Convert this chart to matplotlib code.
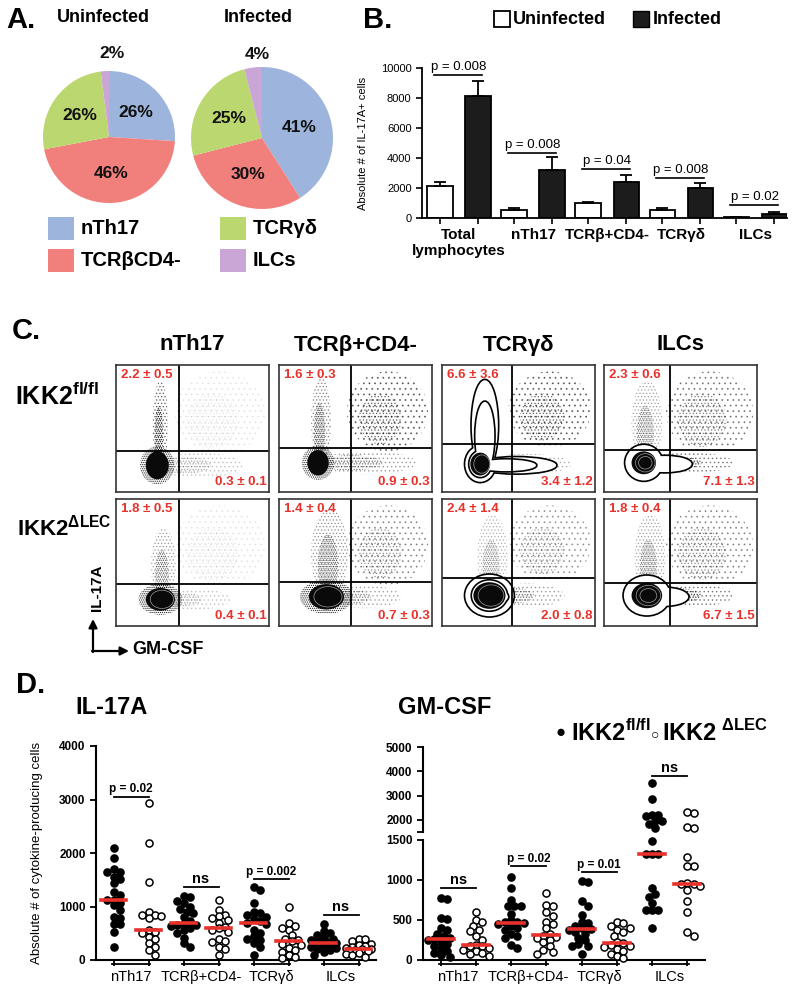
import numpy as np
import matplotlib
matplotlib.use('Agg')
import matplotlib.pyplot as plt
from matplotlib.patches import Ellipse, Rectangle

plt.rcParams['font.family'] = ['Liberation Sans', 'DejaVu Sans']
plt.rcParams['mathtext.fontset'] = 'custom'
plt.rcParams['mathtext.rm'] = 'Liberation Sans'
plt.rcParams['mathtext.bf'] = 'Liberation Sans:bold'
plt.rcParams['hatch.linewidth'] = 0.6

W, H = 800, 991
RED = '#e8312b'

# ---- A. share of IL-17A+ cells (pies)
pie_labels = ['nTh17', 'TCRβCD4-', 'TCRγδ', 'ILCs']
pie_colors = ['#9db5dc', '#f17f7c', '#bbd76f', '#c9a6d6']
pct_uninfected = [26, 46, 26, 2]
pct_infected = [41, 30, 25, 4]

# ---- B. absolute IL-17A+ cells
b_groups = ['Total\nlymphocytes', 'nTh17', 'TCRβ+CD4-', 'TCRγδ', 'ILCs']
b_uninf = [2150, 550, 1000, 550, 60]
b_uninf_err = [250, 150, 80, 90, 20]
b_inf = [8100, 3200, 2400, 2000, 280]
b_inf_err = [1050, 850, 450, 320, 100]
b_pvals = ['p = 0.008', 'p = 0.008', 'p = 0.04', 'p = 0.008', 'p = 0.02']
b_pline = [9530, 4350, 3250, 2690, 870]

# ---- C. flow plots (quadrant gates and rough population shapes, axes fraction)
flow_cols = ['nTh17', 'TCRβ+CD4-', 'TCRγδ', 'ILCs']
flow_rows = [r'IKK2$^{\mathbf{fl/fl}}$', r'IKK2$^{\mathbf{\Delta LEC}}$']
flow_ul = [['2.2 ± 0.5', '1.6 ± 0.3', '6.6 ± 3.6', '2.3 ± 0.6'],
           ['1.8 ± 0.5', '1.4 ± 0.4', '2.4 ± 1.4', '1.8 ± 0.4']]
flow_lr = [['0.3 ± 0.1', '0.9 ± 0.3', '3.4 ± 1.2', '7.1 ± 1.3'],
           ['0.4 ± 0.1', '0.7 ± 0.3', '2.0 ± 0.8', '6.7 ± 1.5']]
gate_x = [[0.41, 0.47, 0.46, 0.43], [0.41, 0.47, 0.46, 0.43]]
gate_y = [[0.32, 0.35, 0.38, 0.33], [0.33, 0.35, 0.38, 0.34]]
core_x = [[0.27, 0.255, 0.25, 0.26], [0.29, 0.31, 0.31, 0.28]]
core_y = [[0.21, 0.23, 0.22, 0.23], [0.21, 0.23, 0.24, 0.24]]
core_w = [[0.15, 0.14, 0.13, 0.16], [0.19, 0.23, 0.21, 0.20]]
core_h = [[0.22, 0.20, 0.18, 0.18], [0.18, 0.20, 0.21, 0.20]]
streak_top = [[0.85, 0.88, 0.85, 0.85], [0.75, 0.90, 0.85, 0.85]]
streak_wid = [[0.10, 0.13, 0.16, 0.2], [0.16, 0.24, 0.2, 0.2]]
streak_den = [[0.9, 0.7, 0.35, 0.5], [0.55, 0.6, 0.4, 0.5]]
tail_end = [[0.83, 0.90, 0.85, 0.85], [0.75, 0.80, 0.80, 0.85]]
tail_den = [[0.3, 0.5, 0.4, 0.7], [0.3, 0.45, 0.5, 0.7]]
cloud_den = [[0.08, 0.5, 0.5, 0.4], [0.08, 0.35, 0.3, 0.35]]
lobe_top = [[0, 0, 0.83, 0], [0, 0, 0, 0]]
lobe_right = [[0, 0, 0.72, 0.54], [0, 0, 0.42, 0.51]]
contour_levels = [[0, 0, 2, 1], [0, 0, 2, 1]]
core_rings = [[0, 0, 1, 2], [1, 1, 1, 2]]

# ---- D. cytokine-producing cells per mouse
d_groups = ['nTh17', 'TCRβ+CD4-', 'TCRγδ', 'ILCs']
il17a_fl = [[2090, 1910, 1700, 1640, 1640, 1560, 1510, 1440, 1270, 1210, 1120,
             1130, 1060, 1020, 930, 810, 780, 670, 670, 530, 250],
            [1200, 1170, 1110, 1060, 1000, 960, 900, 870, 800, 720, 680, 660,
             650, 640, 600, 560, 500, 420, 310, 240],
            [1370, 1310, 1060, 900, 880, 840, 800, 760, 720, 700, 680, 560, 500,
             450, 400, 380, 310, 250, 100],
            [680, 550, 500, 460, 430, 400, 380, 360, 340, 320, 310, 300, 280,
             260, 240, 220, 200, 180, 150, 100]]
il17a_lec = [[2930, 2180, 1450, 900, 850, 840, 820, 780, 560, 520, 500, 430,
              390, 320, 250, 180, 100],
             [1120, 930, 850, 820, 780, 750, 700, 620, 590, 560, 520, 400, 350,
              330, 250, 200, 100],
             [1000, 690, 640, 600, 560, 460, 400, 380, 350, 300, 280, 220, 180,
              150, 100, 60, 30],
             [400, 390, 350, 300, 280, 260, 240, 220, 210, 200, 190, 180, 160,
              140, 120, 100, 60]]
il17a_sig = ['p = 0.02', 'ns', 'p = 0.002', 'ns']
il17a_sig_y = [3050, 1360, 1510, 840]

gmcsf_fl = [[780, 760, 520, 510, 400, 370, 330, 300, 280, 260, 250, 230, 200,
             170, 140, 110, 90, 60, 40],
            [1040, 900, 750, 680, 680, 680, 580, 500, 480, 470, 460, 450, 430,
             400, 370, 330, 300, 270, 190, 150],
            [990, 980, 740, 680, 560, 480, 460, 430, 400, 390, 380, 350, 330,
             280, 250, 200, 180, 170, 80],
            [3500, 2860, 2180, 2150, 2180, 1970, 1970, 1850, 1670, 1490, 1330,
             1330, 1330, 900, 830, 790, 710, 620, 620, 620, 400]]
gmcsf_lec = [[600, 500, 470, 430, 380, 360, 300, 250, 190, 180, 170, 150, 130,
              110, 90, 70, 50],
             [840, 690, 670, 600, 550, 480, 450, 400, 330, 300, 290, 270, 250,
              220, 170, 130, 100, 70],
             [470, 460, 430, 400, 370, 350, 300, 230, 210, 190, 180, 160, 140,
              110, 80, 50, 30],
             [2340, 2270, 1700, 1670, 1290, 1180, 1180, 960, 950, 950, 930, 880,
              740, 600, 350, 300]]
gmcsf_sig = ['ns', 'p = 0.02', 'p = 0.01', 'ns']
gmcsf_sig_y = [900, 1170, 1100, 3810]


def px_rect(x0, y0, x1, y1):
    return [x0 / W, 1 - y1 / H, (x1 - x0) / W, (y1 - y0) / H]


def swarm(vals, ypx, col_px=35.0, diam=7.5):
    # small beeswarm in pixel space, kept within +-0.42 of a column
    placed = []
    offs = np.zeros(len(vals))
    step = diam * 0.42
    cands = [0.0]
    j = 1
    while j * step <= 0.42 * col_px:
        cands += [j * step, -j * step]
        j += 1
    for i in np.argsort(vals)[::-1]:
        y = ypx(vals[i])
        best, best_d = 0.0, -1
        for c in cands:
            d = min([np.hypot(c - px, y - py) for px, py in placed] + [99])
            if d >= 0.78 * diam:
                best = c
                break
            if d > best_d:
                best, best_d = c, d
        placed.append((best, y))
        offs[i] = best / col_px
    return offs


fig = plt.figure(figsize=(W / 100, H / 100), dpi=100)
ov = fig.add_axes([0, 0, 1, 1])
ov.set_xlim(0, W)
ov.set_ylim(H, 0)
ov.axis('off')

# ================= A =================
ov.text(6, 20, 'A.', fontsize=21, fontweight='bold', va='center')
for vals, rect, title, tx, small_pos in [
        (pct_uninfected, (43, 71, 175, 203), 'Uninfected', 103, (0.05, 1.27)),
        (pct_infected, (191, 67, 333, 209), 'Infected', 258, (-0.06, 1.17))]:
    ov.text(tx, 18, title, fontsize=13, fontweight='bold', ha='center', va='center')
    ax = fig.add_axes(px_rect(*rect))
    wedges, _, autotexts = ax.pie(vals, colors=pie_colors, startangle=90, counterclock=False,
                                  autopct=lambda p: '%.0f%%' % p, pctdistance=0.55,
                                  wedgeprops=dict(linewidth=0),
                                  textprops=dict(fontsize=12.5, fontweight='bold', color='#111111'))
    for t, v in zip(autotexts, vals):
        if v < 5:
            t.set_position(small_pos)
    ax.set_xlim(-1, 1)
    ax.set_ylim(-1, 1)
    ax.set_aspect('equal')
    ax.axis('off')

for i, (lab, col) in enumerate(zip(pie_labels, pie_colors)):
    x = 48 + 172 * (i // 2)
    y = 217 + 32 * (i % 2)
    ov.add_patch(Rectangle((x, y), 26, 23, facecolor=col, edgecolor='none'))
    ov.text(x + 33, y + 12, lab, fontsize=14.5, fontweight='bold', va='center')

# ================= B =================
ov.text(363, 20, 'B.', fontsize=21, fontweight='bold', va='center')
ov.add_patch(Rectangle((494, 11), 16, 16, facecolor='white', edgecolor='k', lw=1.3))
ov.text(513, 19, 'Uninfected', fontsize=13, fontweight='bold', va='center')
ov.add_patch(Rectangle((633, 11), 16, 16, facecolor='#1c1c1c', edgecolor='k', lw=1.0))
ov.text(653, 19, 'Infected', fontsize=13, fontweight='bold', va='center')

axb = fig.add_axes(px_rect(422, 68, 787, 218))
xg = np.arange(len(b_groups))
off, bw = 0.257, 0.34
err_kw = dict(lw=1.3, capthick=1.3, ecolor='k')
axb.bar(xg - off, b_uninf, bw, color='white', edgecolor='k', lw=1.3,
        yerr=[np.zeros(len(xg)), b_uninf_err], capsize=4, error_kw=err_kw)
axb.bar(xg + off, b_inf, bw, color='#1c1c1c', edgecolor='k', lw=1.3,
        yerr=[np.zeros(len(xg)), b_inf_err], capsize=4, error_kw=err_kw)
axb.set_xlim(-0.5, 4.43)
axb.set_ylim(0, 10000)
axb.set_yticks(range(0, 10001, 2000))
axb.tick_params(axis='y', labelsize=8, width=1.2, length=4)
axb.set_xticks(np.concatenate([xg - off, xg + off]))
axb.tick_params(axis='x', labelbottom=False, width=1.2, length=4)
for s in ['top', 'right']:
    axb.spines[s].set_visible(False)
for s in ['left', 'bottom']:
    axb.spines[s].set_linewidth(1.3)
axb.set_ylabel('Absolute # of IL-17A+ cells', fontsize=8)
axb.yaxis.set_label_coords(-0.148, 0.5)
for i in range(len(b_groups)):
    axb.plot([i - off - 0.08, i + off + 0.05], [b_pline[i]] * 2, color='k', lw=1.2, clip_on=False)
    axb.annotate(b_pvals[i], (i, b_pline[i]), xytext=(0, 1.5), textcoords='offset points',
                 ha='center', va='bottom', fontsize=9.5, annotation_clip=False)
    axb.text(i, -0.065, b_groups[i], transform=axb.get_xaxis_transform(), ha='center', va='top',
             fontsize=11, fontweight='bold', linespacing=1.25)

# ================= C =================
ov.text(12, 331, 'C.', fontsize=21, fontweight='bold', va='center')
fx = [116, 279, 442, 604]
fy = [365, 499]
fw, fh = 153, 127
for c, name in enumerate(flow_cols):
    ov.text(fx[c] + fw / 2, 345, name, fontsize=16, fontweight='bold', ha='center', va='center')
ov.text(15, 396, flow_rows[0], fontsize=18, fontweight='bold', va='center')
ov.text(17, 528, flow_rows[1], fontsize=16, fontweight='bold', va='center')


def stipple(ax, centre, ew, eh, alpha, hatch):
    ax.add_patch(Ellipse(centre, ew, eh, facecolor='none', edgecolor='k', lw=0,
                         hatch=hatch, alpha=alpha))


for r in range(2):
    for c in range(4):
        ax = fig.add_axes(px_rect(fx[c], fy[r], fx[c] + fw, fy[r] + fh))
        ax.set_xlim(0, 1)
        ax.set_ylim(0, 1)
        ax.set_xticks([])
        ax.set_yticks([])
        for s in ax.spines.values():
            s.set_linewidth(1.2)
            s.set_color('#333333')
        gx, gy = gate_x[r][c], gate_y[r][c]
        cx, cy = core_x[r][c], core_y[r][c]
        w, h = core_w[r][c], core_h[r][c]
        # scattered events drawn as stipple, denser towards the main population
        stipple(ax, ((gx + 0.95) / 2, (gy + 0.92) / 2), 1.0 - gx, 0.98 - gy, cloud_den[r][c], '...')
        stipple(ax, ((gx + 0.85) / 2, (gy + 0.8) / 2), 0.75 - gx, 0.75 - gy, cloud_den[r][c], '.....')
        st, sw = streak_top[r][c], streak_wid[r][c]
        stipple(ax, (cx + 0.02, (cy + st) / 2), sw, st - cy + 0.05, streak_den[r][c] * 0.6, '.....')
        stipple(ax, (cx + 0.01, (cy + st * 0.8) / 2), sw * 0.55, st * 0.8 - cy, streak_den[r][c], '........')
        te = tail_end[r][c]
        stipple(ax, ((cx + te) / 2, cy), te - cx, h * 0.9, tail_den[r][c] * 0.6, '....')
        stipple(ax, ((cx + te * 0.75) / 2, cy), te * 0.75 - cx, h * 0.6, tail_den[r][c], '......')
        stipple(ax, (cx, cy), w * 1.5, h * 1.35, 0.9, '........')
        # contour lobes: outline then refill so only the outer outline of the union remains
        lt, lr = lobe_top[r][c], lobe_right[r][c]
        for scale in [1.0, 0.72][:contour_levels[r][c]]:
            shapes = [((cx, cy), w * 1.5 * scale, h * 1.55 * scale)]
            if lt:
                top = cy + (lt - cy) * scale
                shapes.append(((cx + 0.03, (cy + top) / 2), 0.17 * scale, top - cy + 0.1))
            if lr:
                right = cx + (lr - cx) * scale
                shapes.append((((cx + right) / 2, cy - 0.01), right - cx + w * 0.4, h * 0.7 * scale))
            for centre, ew, eh in shapes:
                ax.add_patch(Ellipse(centre, ew, eh, facecolor='white', edgecolor='k', lw=2.4))
            for centre, ew, eh in shapes:
                ax.add_patch(Ellipse(centre, ew, eh, facecolor='white', edgecolor='none'))
        ax.add_patch(Ellipse((cx, cy), w, h, facecolor='#0a0a0a', edgecolor='none'))
        for k in range(core_rings[r][c]):
            ax.add_patch(Ellipse((cx + 0.01, cy), w * (0.8 - 0.25 * k), h * (0.8 - 0.25 * k),
                                 facecolor='none', edgecolor='white', lw=0.5, alpha=0.6))
        ax.axvline(gx, color='k', lw=1.3)
        ax.axhline(gy, color='k', lw=1.3)
        ax.text(0.03, 0.97, flow_ul[r][c], transform=ax.transAxes, ha='left', va='top',
                fontsize=9.5, fontweight='bold', color=RED)
        ax.text(0.985, 0.03, flow_lr[r][c], transform=ax.transAxes, ha='right', va='bottom',
                fontsize=9.5, fontweight='bold', color=RED)

ov.text(97, 588, 'IL-17A', fontsize=11, fontweight='bold', rotation=90, ha='center', va='center')
ov.annotate('', xy=(93, 619), xytext=(93, 652),
            arrowprops=dict(arrowstyle='-|>,head_length=0.5,head_width=0.25', color='k', lw=1.6,
                            shrinkA=0, shrinkB=0))
ov.annotate('', xy=(129, 651), xytext=(92, 651),
            arrowprops=dict(arrowstyle='-|>,head_length=0.5,head_width=0.25', color='k', lw=1.6,
                            shrinkA=0, shrinkB=0))
ov.text(132, 650, 'GM-CSF', fontsize=13, fontweight='bold', va='center')

# ================= D =================
ov.text(16, 685, 'D.', fontsize=21, fontweight='bold', va='center')
ov.text(75, 708, 'IL-17A', fontsize=17, fontweight='bold', va='center')
ov.text(398, 708, 'GM-CSF', fontsize=17, fontweight='bold', va='center')
ov.text(556, 732, '●', fontsize=12, va='center', ha='left')
ov.text(571, 733, r'IKK2$^{\mathbf{fl/fl}}$', fontsize=17, fontweight='bold', va='center')
ov.text(651, 734, '○', fontsize=10, va='center', ha='left')
ov.text(662, 733, r'IKK2$^{\mathbf{\ \Delta LEC}}$', fontsize=17, fontweight='bold', va='center')


def style_d(ax, bottom=True):
    for s in ['top', 'right']:
        ax.spines[s].set_visible(False)
    ax.spines['left'].set_linewidth(1.5)
    ax.spines['bottom'].set_linewidth(1.5)
    if not bottom:
        ax.spines['bottom'].set_visible(False)
    ax.tick_params(axis='y', labelsize=8.5, width=1.3, length=4)
    for t in ax.get_yticklabels():
        t.set_fontweight('bold')
    ax.set_xlim(-0.5, 7.5)
    ax.set_xticks(np.arange(8))
    ax.tick_params(axis='x', labelbottom=False, width=1.3, length=4 if bottom else 0)


def group_labels(ax, ax_h_px):
    for g, name in enumerate(d_groups):
        ax.plot([2 * g - 0.05, 2 * g + 1.05], [-4 / ax_h_px] * 2, color='k', lw=1.3,
                transform=ax.get_xaxis_transform(), clip_on=False)
        ax.text(2 * g + 0.5, -10 / ax_h_px, name, transform=ax.get_xaxis_transform(),
                ha='center', va='top', fontsize=10.5)


def sig_mark(ax, g, y, label):
    ax.plot([2 * g, 2 * g + 1], [y, y], color='k', lw=1.3, clip_on=False)
    ax.annotate(label, (2 * g + 0.5, y), xytext=(0, 1), textcoords='offset points',
                ha='center', va='bottom', fontsize=10.5 if label == 'ns' else 8.5,
                fontweight='bold', annotation_clip=False)


# IL-17A
axi = fig.add_axes(px_rect(96, 746, 376, 960))
il_px = lambda v: v * 0.0535
for g in range(4):
    for j, vals in enumerate([il17a_fl[g], il17a_lec[g]]):
        x0 = 2 * g + j
        xs = x0 + swarm(vals, il_px)
        axi.scatter(xs, vals, s=26, facecolor='k' if j == 0 else 'white', edgecolor='k',
                    lw=1.1, zorder=3, clip_on=False)
        med = np.median(vals)
        axi.plot([x0 - 0.37, x0 + 0.37], [med, med], color=RED, lw=2.6, zorder=4)
    sig_mark(axi, g, il17a_sig_y[g], il17a_sig[g])
axi.set_ylim(0, 4000)
axi.set_yticks(range(0, 4001, 1000))
style_d(axi)
group_labels(axi, 214)
axi.set_ylabel('Absolute # of cytokine-producing cells', fontsize=9.5)
axi.yaxis.set_label_coords(-0.19, 0.5)

# GM-CSF (broken axis)
axt = fig.add_axes(px_rect(423, 747, 705, 832))
axl = fig.add_axes(px_rect(423, 840, 705, 960))
gm_px = lambda v: v * 0.08 if v <= 1500 else 128 + (v - 1500) * 0.02433
for g in range(4):
    for j, vals in enumerate([gmcsf_fl[g], gmcsf_lec[g]]):
        x0 = 2 * g + j
        vals = np.array(vals)
        xs = x0 + swarm(vals, gm_px)
        for axp, sel in [(axl, vals <= 1500), (axt, vals > 1500)]:
            axp.scatter(xs[sel], vals[sel], s=26, facecolor='k' if j == 0 else 'white',
                        edgecolor='k', lw=1.1, zorder=3, clip_on=False)
        med = np.median(vals)
        axm = axl if med <= 1500 else axt
        axm.plot([x0 - 0.37, x0 + 0.37], [med, med], color=RED, lw=2.6, zorder=4)
    sig_mark(axt if gmcsf_sig_y[g] > 1500 else axl, g, gmcsf_sig_y[g], gmcsf_sig[g])
axt.set_ylim(1500, 5000)
axt.set_yticks([1500, 2000, 3000, 4000, 5000])
axt.set_yticklabels(['', '2000', '3000', '4000', '5000'])
axl.set_ylim(0, 1500)
axl.set_yticks([0, 500, 1000, 1500])
style_d(axt, bottom=False)
style_d(axl)
group_labels(axl, 120)

fig.savefig('out.png', dpi=100)
